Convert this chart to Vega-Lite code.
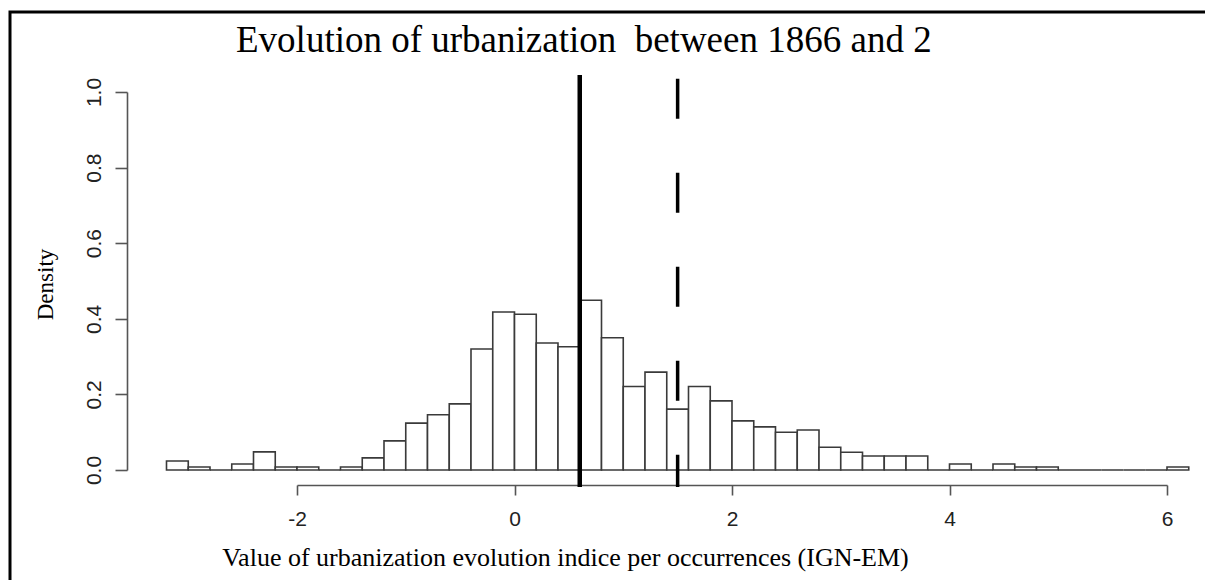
{
  "$schema": "https://vega.github.io/schema/vega-lite/v6.json",
  "autosize": "none",
  "width": 1205,
  "height": 571,
  "padding": {"left": 10, "top": 12, "right": -10, "bottom": -3},
  "background": "white",
  "config": {
    "view": {"stroke": "black", "strokeWidth": 3},
    "axis": {"grid": false}
  },
  "title": {
    "text": "Evolution of urbanization\u00a0 between 1866 and 2",
    "anchor": "start",
    "frame": "group",
    "font": "Liberation Serif",
    "fontSize": 37,
    "fontWeight": "normal",
    "color": "black",
    "dx": 226,
    "dy": 77,
    "offset": 0,
    "baseline": "alphabetic"
  },
  "datasets": {
    "bins": [
      {"start": -3.2, "end": -3.0, "density": 0.024},
      {"start": -3.0, "end": -2.8, "density": 0.008},
      {"start": -2.8, "end": -2.6, "density": 0},
      {"start": -2.6, "end": -2.4, "density": 0.016},
      {"start": -2.4, "end": -2.2, "density": 0.048},
      {"start": -2.2, "end": -2.0, "density": 0.008},
      {"start": -2.0, "end": -1.8, "density": 0.008},
      {"start": -1.8, "end": -1.6, "density": 0},
      {"start": -1.6, "end": -1.4, "density": 0.008},
      {"start": -1.4, "end": -1.2, "density": 0.032},
      {"start": -1.2, "end": -1.0, "density": 0.077},
      {"start": -1.0, "end": -0.8, "density": 0.124},
      {"start": -0.8, "end": -0.6, "density": 0.146},
      {"start": -0.6, "end": -0.4, "density": 0.175},
      {"start": -0.4, "end": -0.2, "density": 0.32},
      {"start": -0.2, "end": 0.0, "density": 0.418},
      {"start": 0.0, "end": 0.2, "density": 0.412},
      {"start": 0.2, "end": 0.4, "density": 0.336},
      {"start": 0.4, "end": 0.6, "density": 0.326},
      {"start": 0.6, "end": 0.8, "density": 0.449},
      {"start": 0.8, "end": 1.0, "density": 0.35},
      {"start": 1.0, "end": 1.2, "density": 0.221},
      {"start": 1.2, "end": 1.4, "density": 0.259},
      {"start": 1.4, "end": 1.6, "density": 0.161},
      {"start": 1.6, "end": 1.8, "density": 0.221},
      {"start": 1.8, "end": 2.0, "density": 0.183},
      {"start": 2.0, "end": 2.2, "density": 0.13},
      {"start": 2.2, "end": 2.4, "density": 0.114},
      {"start": 2.4, "end": 2.6, "density": 0.1},
      {"start": 2.6, "end": 2.8, "density": 0.106},
      {"start": 2.8, "end": 3.0, "density": 0.06},
      {"start": 3.0, "end": 3.2, "density": 0.047},
      {"start": 3.2, "end": 3.4, "density": 0.037},
      {"start": 3.4, "end": 3.6, "density": 0.037},
      {"start": 3.6, "end": 3.8, "density": 0.037},
      {"start": 3.8, "end": 4.0, "density": 0},
      {"start": 4.0, "end": 4.2, "density": 0.016},
      {"start": 4.2, "end": 4.4, "density": 0},
      {"start": 4.4, "end": 4.6, "density": 0.016},
      {"start": 4.6, "end": 4.8, "density": 0.008},
      {"start": 4.8, "end": 5.0, "density": 0.008},
      {"start": 5.0, "end": 5.2, "density": 0},
      {"start": 5.2, "end": 5.4, "density": 0},
      {"start": 5.4, "end": 5.6, "density": 0},
      {"start": 5.6, "end": 5.8, "density": 0},
      {"start": 5.8, "end": 6.0, "density": 0},
      {"start": 6.0, "end": 6.2, "density": 0.008}
    ],
    "refs": [
      {"stat": "median", "value": 0.6},
      {"stat": "mean", "value": 1.5}
    ]
  },
  "layer": [
    {
      "data": {"name": "bins"},
      "mark": {"type": "rect", "fill": "white", "stroke": "#3a3a3a", "strokeWidth": 1.6, "clip": false},
      "encoding": {
        "x": {
          "field": "start",
          "type": "quantitative",
          "scale": {"domain": [-2, 6], "range": [287, 1157], "nice": false, "zero": false},
          "axis": {
            "values": [-2, 0, 2, 4, 6],
            "labelExpr": "'' + datum.value",
            "offset": -98,
            "domainColor": "#555555",
            "domainWidth": 1.6,
            "tickColor": "#555555",
            "tickWidth": 1.6,
            "tickSize": 10,
            "labelFont": "Liberation Sans",
            "labelFontSize": 21,
            "labelColor": "#222222",
            "labelPadding": 13,
            "labelOverlap": false,
            "labelFlush": false,
            "title": "Value of urbanization evolution indice per occurrences (IGN-EM)",
            "titleFont": "Liberation Serif",
            "titleFontSize": 26,
            "titleFontWeight": "normal",
            "titleColor": "black",
            "titleX": 555,
            "titleY": 72,
            "titleAlign": "center",
            "titleBaseline": "middle"
          }
        },
        "x2": {"field": "end"},
        "y": {
          "field": "density",
          "type": "quantitative",
          "scale": {"domain": [0, 1], "range": [458, 80], "nice": false},
          "axis": {
            "values": [0, 0.2, 0.4, 0.6, 0.8, 1.0],
            "format": ".1f",
            "offset": -117,
            "domainColor": "#555555",
            "domainWidth": 1.6,
            "tickColor": "#555555",
            "tickWidth": 1.6,
            "tickSize": 12,
            "labelFont": "Liberation Sans",
            "labelFontSize": 21,
            "labelColor": "#222222",
            "labelAngle": -90,
            "labelAlign": "center",
            "labelBaseline": "bottom",
            "labelPadding": 11,
            "labelOverlap": false,
            "labelFlush": false,
            "title": "Density",
            "titleFont": "Liberation Serif",
            "titleFontSize": 23,
            "titleFontWeight": "normal",
            "titleColor": "black",
            "titleAngle": -90,
            "titleX": -82,
            "titleY": 272,
            "titleAlign": "center",
            "titleBaseline": "middle"
          }
        },
        "y2": {"datum": 0}
      }
    },
    {
      "data": {"name": "refs"},
      "transform": [{"filter": "datum.stat === 'median'"}],
      "mark": {"type": "rule", "stroke": "black", "strokeWidth": 4.5},
      "encoding": {
        "x": {"field": "value", "type": "quantitative"},
        "y": {"datum": 1.045},
        "y2": {"datum": -0.045}
      }
    },
    {
      "data": {"name": "refs"},
      "transform": [{"filter": "datum.stat === 'mean'"}],
      "mark": {"type": "rule", "stroke": "black", "strokeWidth": 3.5, "strokeDash": [40, 54]},
      "encoding": {
        "x": {"field": "value", "type": "quantitative"},
        "y": {"datum": 1.035},
        "y2": {"datum": -0.045}
      }
    }
  ]
}
